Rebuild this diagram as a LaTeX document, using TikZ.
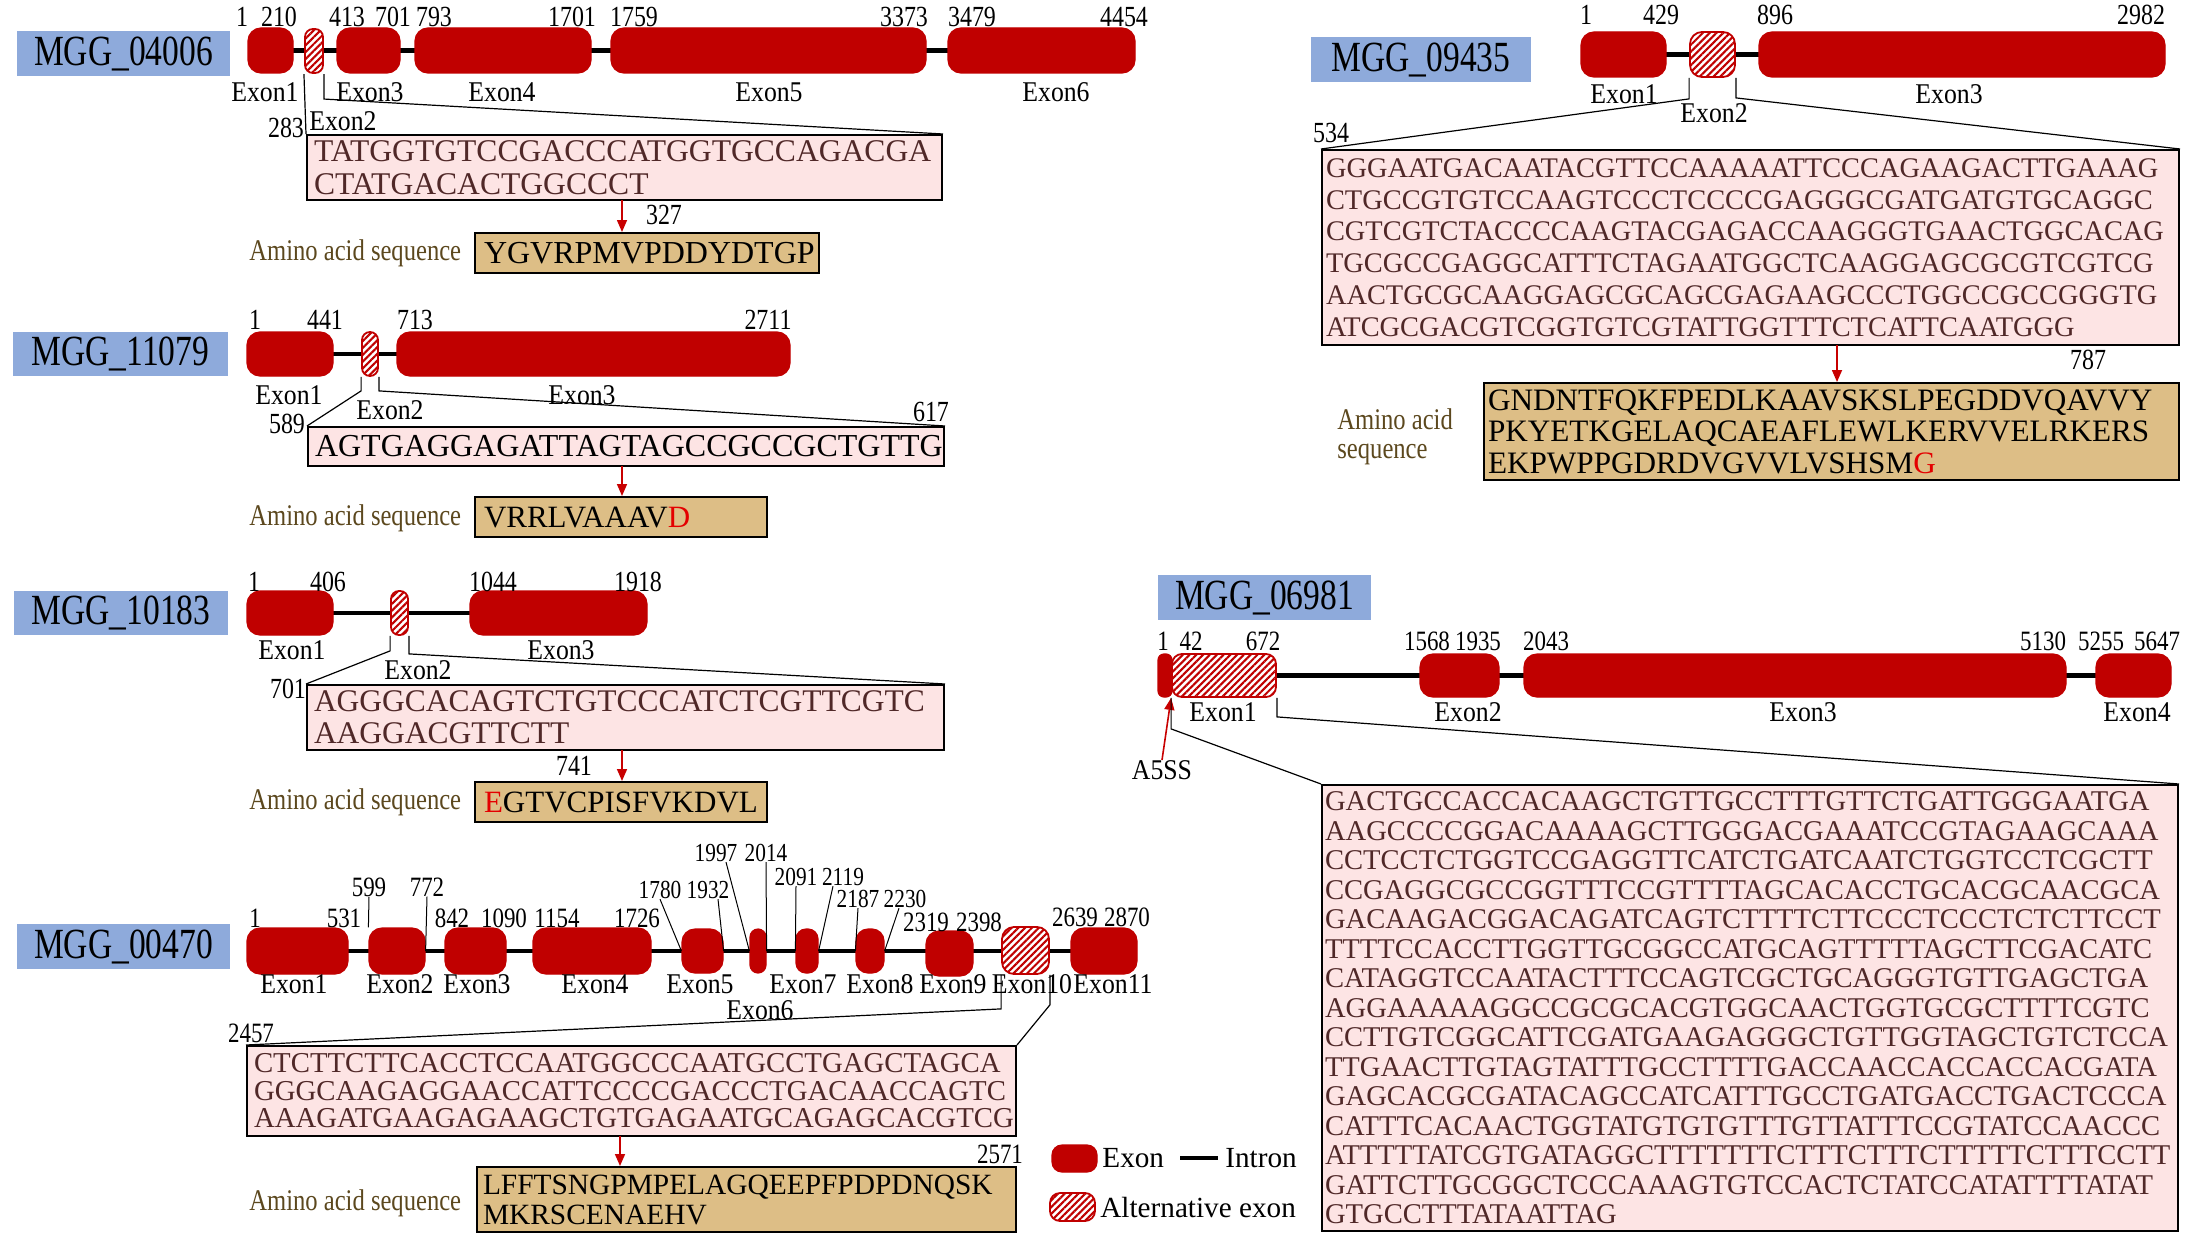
\documentclass[tikz,border=0pt]{standalone}
\usepackage{fontspec}
\setmainfont{Liberation Serif}
\newfontfamily\fA{Liberation Serif}[FakeStretch=0.82]
\newfontfamily\fG{Liberation Serif}[FakeStretch=0.78]
\newfontfamily\fC{Liberation Serif}[FakeStretch=0.9]
\usetikzlibrary{arrows.meta,patterns.meta}
\definecolor{exred}{RGB}{192,0,0}
\definecolor{lblue}{RGB}{142,170,219}
\definecolor{pinkc}{RGB}{253,228,228}
\definecolor{tanc}{RGB}{221,190,134}
\definecolor{seqc}{RGB}{80,40,40}
\definecolor{olivec}{RGB}{92,72,30}
\definecolor{arrred}{RGB}{200,0,0}
\definecolor{hired}{RGB}{228,0,0}
\uchyph=0
\hyphenpenalty=10000
\pgfdeclarelayer{bgw}
\pgfdeclarelayer{intr}
\pgfsetlayers{bgw,intr,main}
\tikzset{
  exonst/.style={fill=exred, draw=exred, line width=0.6pt, inner sep=0pt, rounded corners=6.5pt},
  altst/.style={draw=exred, line width=0.9pt, inner sep=0pt, preaction={fill=white}, pattern={Lines[angle=45,distance=2.4pt,line width=1.05pt]}, pattern color=exred},
  genebox/.style={fill=lblue, inner sep=0pt, minimum width=106.5pt, minimum height=22.5pt, font=\fG\fontsize{21.5}{21.5}\selectfont},
  num/.style={inner sep=0pt, font=\fA\fontsize{14.6}{14.6}\selectfont},
  numm/.style={inner sep=0pt, font=\fA\fontsize{14}{14}\selectfont},
  nums/.style={inner sep=0pt, font=\fA\fontsize{13}{13}\selectfont},
  exlab/.style={inner sep=0pt, font=\fC\fontsize{14.3}{14.3}\selectfont},
  seqbox/.style={draw=black, line width=1pt, fill=pinkc, text=seqc, align=left, inner ysep=0pt},
  aabox/.style={draw=black, line width=1pt, fill=tanc, text=black, align=left, inner ysep=0pt},
  aalab/.style={inner sep=0pt, anchor=west, text=olivec, font=\fA\fontsize{15}{15}\selectfont},
  zl/.style={draw=black, line width=0.6pt},
  lead/.style={draw=black, line width=0.5pt},
  intron/.style={draw=black, line width=2.3pt},
  redarr/.style={draw=arrred, line width=0.8pt, -{Triangle[length=6pt,width=5pt]}},
  lgtext/.style={inner sep=0pt, anchor=west, font=\fontsize{14.6}{14.6}\selectfont},
}
\newcommand{\gx}[6]{\node[#1,minimum width={(#4-#3)*0.5pt},minimum height={(#6-#5)*0.5pt}] (#2) at ({(#3+#4)/2},{(#5+#6)/2}) {};}
\begin{document}
\begin{tikzpicture}[x=0.5pt,y=-0.5pt]
\useasboundingbox (0,0) rectangle (2189,1247);
\begin{pgfonlayer}{bgw}\fill[white] (0,0) rectangle (2189,1247);\end{pgfonlayer}

%% ---------------- MGG_04006 ----------------
\node[genebox] (L1) at (123.5,54) {MGG\_04006};
\gx{exonst}{a1}{248}{293}{28}{73}
\gx{altst,rounded corners=4pt}{a2}{305}{323}{29}{73}
\gx{exonst}{a3}{337}{400}{28}{73}
\gx{exonst}{a4}{415}{591}{28}{73}
\gx{exonst}{a5}{611}{926}{28}{73}
\gx{exonst}{a6}{948}{1135}{28}{73}
\begin{pgfonlayer}{intr}\draw[intron] (a1.center) -- (a6.center);\end{pgfonlayer}
\node[num] (n1a) at (242,17) {1};
\node[num] (n1b) at (279,17) {210};
\node[num] (n1c) at (347,17) {413};
\node[num] (n1d) at (393,17) {701};
\node[num] (n1e) at (434,17) {793};
\node[num] (n1f) at (572,17) {1701};
\node[num] (n1g) at (634,17) {1759};
\node[num] (n1h) at (904,17) {3373};
\node[num] (n1i) at (972,17) {3479};
\node[num] (n1j) at (1124,17) {4454};
\node[exlab] (x1a) at (265,92) {Exon1};
\node[exlab] (x1c) at (370,92) {Exon3};
\node[exlab] (x1d) at (502,92) {Exon4};
\node[exlab] (x1e) at (769,92) {Exon5};
\node[exlab] (x1f) at (1056,92) {Exon6};
\node[exlab] (x1b) at (343,121) {Exon2};
\node[num] (p1a) at (286,128) {283};
\node[seqbox, inner xsep=3.5pt, text width=310.5pt, minimum height=32.5pt, font=\fontsize{15.8}{16.5}\selectfont] (s1) at (624.5,167.5) {TATGGTGTCCGACCCATGGTGCCAGACGA\\CTATGACACTGGCCCT};
\node[num] (p1b) at (664,215) {327};
\node[aabox, inner xsep=4.5pt, text width=163pt, minimum height=20pt, font=\fontsize{16}{16}\selectfont] (aa1) at (647,253) {YGVRPMVPDDYDTGP};
\node[aalab] (al1) at (249,253) {Amino acid sequence};
\coordinate (r1) at (622,200);
\draw[redarr] (r1) -- (r1 |- aa1.north);
\draw[zl] (a2.south west) -- (s1.north west);
\draw[zl] (a2.south east) -- ++(0,25) -- (s1.north east);

%% ---------------- MGG_11079 ----------------
\node[genebox, minimum width=107.5pt, minimum height=22pt] (L2) at (120.5,354) {MGG\_11079};
\gx{exonst}{e1}{247}{333}{332}{376}
\gx{altst,rounded corners=4pt}{e2}{362}{378}{332}{376}
\gx{exonst}{e3}{397}{790}{332}{376}
\begin{pgfonlayer}{intr}\draw[intron] (e1.center) -- (e3.center);\end{pgfonlayer}
\node[num] (n2a) at (255,320) {1};
\node[num] (n2b) at (325,320) {441};
\node[num] (n2c) at (415,320) {713};
\node[num] (n2d) at (768,320) {2711};
\node[exlab] (x2a) at (289,395) {Exon1};
\node[exlab] (x2c) at (582,395) {Exon3};
\node[exlab] (x2b) at (390,410) {Exon2};
\node[num] (p2a) at (287,424) {589};
\node[num] (p2b) at (931,412) {617};
\node[seqbox, text=black, inner xsep=3.5pt, text width=311pt, minimum height=19.5pt, font=\fontsize{16}{16}\selectfont] (s2) at (626,446.5) {AGTGAGGAGATTAGTAGCCGCCGCTGTTG};
\node[aabox, inner xsep=4.5pt, text width=137pt, minimum height=20pt, font=\fontsize{15.5}{15.5}\selectfont] (aa2) at (621,517) {VRRLVAAAV\textcolor{hired}{D}};
\node[aalab] (al2) at (249,518) {Amino acid sequence};
\coordinate (r2) at (622,466);
\draw[redarr] (r2) -- (r2 |- aa2.north);
\draw[zl] (e2.south west) -- ++(0,14) -- (s2.north west);
\draw[zl] (e2.south east) -- ++(0,14) -- (s2.north east);

%% ---------------- MGG_10183 ----------------
\node[genebox, minimum width=107pt, minimum height=22pt] (L3) at (121,613) {MGG\_10183};
\gx{exonst}{g1}{247}{333}{591}{635}
\gx{altst,rounded corners=4pt}{g2}{391}{408}{591}{635}
\gx{exonst}{g3}{470}{647}{591}{635}
\begin{pgfonlayer}{intr}\draw[intron] (g1.center) -- (g3.center);\end{pgfonlayer}
\node[num] (n3a) at (254,582) {1};
\node[num] (n3b) at (328,582) {406};
\node[num] (n3c) at (493,582) {1044};
\node[num] (n3d) at (638,582) {1918};
\node[exlab] (x3a) at (292,650) {Exon1};
\node[exlab] (x3c) at (561,650) {Exon3};
\node[exlab] (x3b) at (418,670) {Exon2};
\node[num] (p3a) at (288,689) {701};
\node[num] (p3b) at (574,766) {741};
\node[seqbox, inner xsep=3.5pt, text width=311.5pt, minimum height=32.5pt, font=\fontsize{15.75}{16}\selectfont] (s3) at (625.5,717.5) {AGGGCACAGTCTGTCCCATCTCGTTCGTC\\AAGGACGTTCTT};
\node[aabox, inner xsep=4.5pt, text width=137pt, minimum height=20pt, font=\fontsize{15.5}{15.5}\selectfont] (aa3) at (621,802) {\textcolor{hired}{E}GTVCPISFVKDVL};
\node[aalab] (al3) at (249,802) {Amino acid sequence};
\coordinate (r3) at (622,750);
\draw[redarr] (r3) -- (r3 |- aa3.north);
\draw[zl] (g2.south west) -- ++(0,15) -- (s3.north west);
\draw[zl] (g2.south east) -- ++(0,18) -- (s3.north east);

%% ---------------- MGG_00470 ----------------
\node[genebox] (L4) at (123.5,946.5) {MGG\_00470};
\gx{exonst}{k1}{247}{348}{928}{974}
\gx{exonst}{k2}{369}{425}{928}{974}
\gx{exonst}{k3}{445}{506}{928}{974}
\gx{exonst}{k4}{533}{651}{928}{974}
\gx{exonst}{k5}{682}{723}{929}{973}
\gx{exonst,rounded corners=4pt}{k6}{750}{766}{929}{973}
\gx{exonst,rounded corners=5pt}{k7}{796}{818}{929}{973}
\gx{exonst,rounded corners=6pt}{k8}{856}{884}{929}{973}
\gx{exonst}{k9}{926}{973}{931}{976}
\gx{altst,rounded corners=6pt}{k10}{1002}{1049}{927}{974}
\gx{exonst}{k11}{1071}{1137}{928}{974}
\begin{pgfonlayer}{intr}\draw[intron] (k1.center) -- (k1.center -| k11.center);\end{pgfonlayer}
\node[numm] (q1) at (255,918) {1};
\node[numm] (q531) at (344,918) {531};
\node[numm] (q599) at (369,887) {599};
\node[numm] (q772) at (427,887) {772};
\node[numm] (q842) at (452,918) {842};
\node[numm] (q1090) at (504,918) {1090};
\node[numm] (q1154) at (557,918) {1154};
\node[numm] (q1726) at (637,918) {1726};
\node[nums] (q1780) at (660,890) {1780};
\node[nums] (q1932) at (708,890) {1932};
\node[nums] (q1997) at (716,853) {1997};
\node[nums] (q2014) at (766,853) {2014};
\node[nums] (q2091) at (796,877) {2091};
\node[nums] (q2119) at (843,877) {2119};
\node[nums] (q2187) at (858,899) {2187};
\node[nums] (q2230) at (905,899) {2230};
\node[numm] (q2319) at (926,922) {2319};
\node[numm] (q2398) at (979,922) {2398};
\node[numm] (q2639) at (1075,917) {2639};
\node[numm] (q2870) at (1127,917) {2870};
\draw[lead] (q599.south) -- (k2.north west);
\draw[lead] (q772.south) -- (k2.east);
\draw[lead] (q1780.south) -- (k5.west);
\draw[lead] ([xshift=5pt]q1932.south) -- (k5.east);
\draw[lead] ([xshift=5pt]q1997.south) -- (k6.west);
\draw[lead] (q2014.south) -- (k6.east);
\draw[lead] (q2091.south) -- (k7.west);
\draw[lead] ([xshift=-5pt]q2119.south) -- (k7.east);
\draw[lead] (q2187.south) -- (k8.west);
\draw[lead] ([xshift=-3pt]q2230.south) -- (k8.east);
\node[exlab] (y1) at (294,984) {Exon1};
\node[exlab] (y2) at (400,984) {Exon2};
\node[exlab] (y3) at (477,984) {Exon3};
\node[exlab] (y4) at (595,984) {Exon4};
\node[exlab] (y5) at (700,984) {Exon5};
\node[exlab] (y6) at (760,1010) {Exon6};
\node[exlab] (y7) at (803,984) {Exon7};
\node[exlab] (y8) at (880,984) {Exon8};
\node[exlab] (y9) at (953,984) {Exon9};
\node[exlab] (y10) at (1032,984) {Exon10};
\node[exlab] (y11) at (1113,984) {Exon11};
\node[numm] (p4a) at (251,1033) {2457};
\node[numm] (p4b) at (1000,1154) {2571};
\node[seqbox, inner xsep=3.5pt, text width=377.5pt, minimum height=45pt, font=\fontsize{14.4}{13.75}\selectfont] (s4) at (631.5,1091) {CTCTTCTTCACCTCCAATGGCCCAATGCCTGAGCTAGCA\\GGGCAAGAGGAACCATTCCCCGACCCTGACAACCAGTC\\AAAGATGAAGAGAAGCTGTGAGAATGCAGAGCACGTCG};
\node[aabox, inner xsep=3pt, text width=263.5pt, minimum height=32.5pt, font=\fontsize{14.7}{15}\selectfont] (aa4) at (746.5,1199.5) {LFFTSNGPMPELAGQEEPFPDPDNQSK\\MKRSCENAEHV};
\node[aalab] (al4) at (249,1203) {Amino acid sequence};
\coordinate (r4) at (620,1136);
\draw[redarr] (r4) -- (r4 |- aa4.north);
\draw[zl] (k10.south west) -- ++(0,34) -- (s4.north west);
\draw[zl] (k10.south east) -- ++(0,30) -- (s4.north east);

%% legend
\gx{exonst,rounded corners=5pt}{lg1}{1052}{1097}{1145}{1172}
\node[lgtext] (lt1) at (1102,1158) {Exon};
\coordinate (li1) at (1180,1158);
\coordinate (li2) at (1218,1158);
\draw[intron] (li1) -- (li2);
\node[lgtext] (lt2) at (1225,1158) {Intron};
\gx{altst,rounded corners=5pt}{lg2}{1050}{1095}{1193}{1221}
\node[lgtext] (lt3) at (1100,1207) {Alternative exon};

%% ---------------- MGG_09435 ----------------
\node[genebox, minimum width=110pt] (L5) at (1421,59.5) {MGG\_09435};
\gx{exonst}{m1}{1581}{1666}{32}{77}
\gx{altst,rounded corners=6pt}{m2}{1690}{1735}{32}{77}
\gx{exonst}{m3}{1759}{2165}{32}{77}
\begin{pgfonlayer}{intr}\draw[intron] (m1.center) -- (m3.center);\end{pgfonlayer}
\node[num] (n5a) at (1586,15) {1};
\node[num] (n5b) at (1661,15) {429};
\node[num] (n5c) at (1775,15) {896};
\node[num] (n5d) at (2141,15) {2982};
\node[exlab] (x5a) at (1624,94) {Exon1};
\node[exlab] (x5c) at (1949,94) {Exon3};
\node[exlab] (x5b) at (1714,113) {Exon2};
\node[num] (p5a) at (1331,133) {534};
\node[num] (p5b) at (2088,360) {787};
\node[seqbox, inner xsep=2pt, text width=424.5pt, minimum height=97.5pt, font=\fontsize{14.2}{15.9}\selectfont] (s5) at (1750.5,247.5) {GGGAATGACAATACGTTCCAAAAATTCCCAGAAGACTTGAAAG\\CTGCCGTGTCCAAGTCCCTCCCCGAGGGCGATGATGTGCAGGC\\CGTCGTCTACCCCAAGTACGAGACCAAGGGTGAACTGGCACAG\\TGCGCCGAGGCATTTCTAGAATGGCTCAAGGAGCGCGTCGTCG\\AACTGCGCAAGGAGCGCAGCGAGAAGCCCTGGCCGCCGGGTG\\ATCGCGACGTCGGTGTCGTATTGGTTTCTCATTCAATGGG};
\node[aabox, inner xsep=2pt, text width=343.5pt, minimum height=48.5pt, font=\fontsize{15.6}{15.75}\selectfont] (aa5) at (1831.5,431.5) {GNDNTFQKFPEDLKAAVSKSLPEGDDVQAVVY\\PKYETKGELAQCAEAFLEWLKERVVELRKERS\\EKPWPPGDRDVGVVLVSHSM\textcolor{hired}{G}};
\node[aalab, align=left, font=\fA\fontsize{15}{14.5}\selectfont] (al5) at (1337,437) {Amino acid\\sequence};
\coordinate (r5) at (1837,345);
\draw[redarr] (r5) -- (r5 |- aa5.north);
\draw[zl] (m2.south west) -- ++(0,21) -- (s5.north west);
\draw[zl] (m2.south east) -- ++(0,20) -- (s5.north east);

%% ---------------- MGG_06981 ----------------
\node[genebox] (L6) at (1264.5,597.5) {MGG\_06981};
\gx{exonst,rounded corners=3pt}{f0}{1158}{1172}{654}{697}
\gx{altst,rounded corners=5pt}{f1}{1172}{1276}{654}{697}
\gx{exonst}{f2}{1420}{1499}{654}{697}
\gx{exonst}{f3}{1524}{2066}{654}{697}
\gx{exonst}{f4}{2096}{2171}{654}{697}
\begin{pgfonlayer}{intr}\draw[intron] (f1.center) -- (f4.center);\end{pgfonlayer}
\node[numm] (n6a) at (1163,641) {1};
\node[numm] (n6b) at (1191,641) {42};
\node[numm] (n6c) at (1263,641) {672};
\node[numm] (n6d) at (1427,641) {1568};
\node[numm] (n6e) at (1478,641) {1935};
\node[numm] (n6f) at (1546,641) {2043};
\node[numm] (n6g) at (2043,641) {5130};
\node[numm] (n6h) at (2101,641) {5255};
\node[numm] (n6i) at (2157,641) {5647};
\node[exlab] (x6a) at (1223,712) {Exon1};
\node[exlab] (x6b) at (1468,712) {Exon2};
\node[exlab] (x6c) at (1803,712) {Exon3};
\node[exlab] (x6d) at (2137,712) {Exon4};
\node[exlab] (a5) at (1162,770) {A5SS};
\draw[redarr] (a5.north) -- (f1.south west);
\node[seqbox, inner xsep=1.5pt, text width=425pt, minimum height=223pt, font=\fontsize{14.3}{14.75}\selectfont] (s6) at (1750,1008) {GACTGCCACCACAAGCTGTTGCCTTTGTTCTGATTGGGAATGA\\AAGCCCCGGACAAAAGCTTGGGACGAAATCCGTAGAAGCAAA\\CCTCCTCTGGTCCGAGGTTCATCTGATCAATCTGGTCCTCGCTT\\CCGAGGCGCCGGTTTCCGTTTTAGCACACCTGCACGCAACGCA\\GACAAGACGGACAGATCAGTCTTTTCTTCCCTCCCTCTCTTCCT\\TTTTCCACCTTGGTTGCGGCCATGCAGTTTTTAGCTTCGACATC\\CATAGGTCCAATACTTTCCAGTCGCTGCAGGGTGTTGAGCTGA\\AGGAAAAAGGCCGCGCACGTGGCAACTGGTGCGCTTTTCGTC\\CCTTGTCGGCATTCGATGAAGAGGGCTGTTGGTAGCTGTCTCCA\\TTGAACTTGTAGTATTTGCCTTTTGACCAACCACCACCACGATA\\GAGCACGCGATACAGCCATCATTTGCCTGATGACCTGACTCCCA\\CATTTCACAACTGGTATGTGTGTTTGTTATTTCCGTATCCAACCC\\ATTTTTATCGTGATAGGCTTTTTTTCTTTCTTTCTTTTTCTTTCCTT\\GATTCTTGCGGCTCCCAAAGTGTCCACTCTATCCATATTTTATAT\\GTGCCTTTATAATTAG};
\draw[zl] (f1.south west) -- ++(0,31) -- (s6.north west);
\draw[zl] (f1.south east) -- ++(0,19) -- (s6.north east);
\end{tikzpicture}
\end{document}
